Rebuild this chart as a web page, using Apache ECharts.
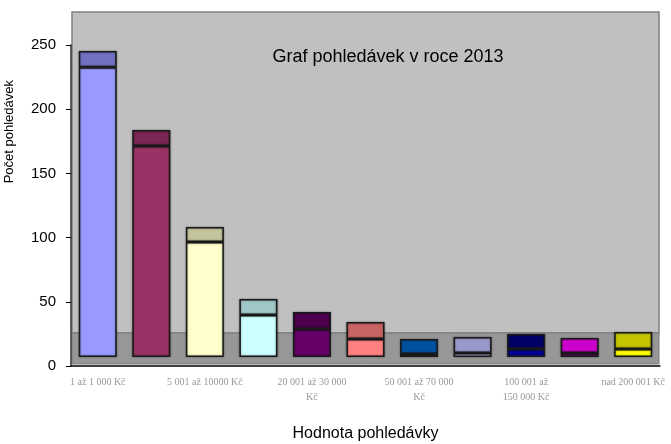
<!DOCTYPE html>
<html>
<head>
<meta charset="utf-8">
<script src="https://cdn.jsdelivr.net/npm/echarts@6/dist/echarts.min.js"></script>
<style>
  html, body { margin: 0; padding: 0; background: #fff; }
  #chart { width: 671px; height: 444px; }
</style>
</head>
<body>
<div id="chart"></div>
<script>
// hodnoty
var categories = ['1 až 1 000 Kč', '1 001 až 5 000 Kč', '5 001 až 10000 Kč', '10 001 až 20 000 Kč',
    '20 001 až 30 000\nKč', '30 001 až 50 000 Kč', '50 001 až 70 000\nKč', '70 001 až 100 000 Kč',
    '100 001 až\n150 000 Kč', '150 001 až 200 000 Kč', 'nad 200 001 Kč'];
var frontValues = [225.6, 164.3, 89.6, 32.7, 21.8, 14, 2.3, 3.1, 6.2, 3.1, 6.2];
var topValues = [12.7, 12.5, 11.6, 12.5, 13.2, 13.3, 11.7, 12.5, 11.7, 11.7, 13.3];
var frontColors = ['#9999ff', '#993366', '#ffffcc', '#ccffff', '#660066', '#ff8080',
    '#002a55', '#ccccff', '#000099', '#800080', '#ffff00'];
var topColors = ['#7171c4', '#7a2553', '#c4c49c', '#a0c8c8', '#4d004d', '#c86464',
    '#0050a0', '#9999cc', '#000066', '#cc00cc', '#c4c400'];
var yTicks = [0, 50, 100, 150, 200, 250];

var myChart = echarts.init(document.getElementById('chart'));

var barStyle = function (colors) {
    return {
        color: function (p) { return colors[p.dataIndex]; },
        borderColor: '#1a1a1a',
        borderWidth: 1.5,
        shadowBlur: 2,
        shadowColor: 'rgba(0,0,0,0.45)'
    };
};

var option = {
    animation: false,
    title: {
        text: 'Graf pohledávek v roce 2013',
        left: 383,
        top: 43,
        textAlign: 'center',
        textStyle: { fontFamily: 'Liberation Sans', fontSize: 18, fontWeight: 'normal', color: '#000' }
    },
    graphic: [
        { type: 'rect', z: -10, shape: { x: 72, y: 12, width: 587, height: 321 },
          style: { fill: '#c0c0c0', stroke: '#808080', lineWidth: 1.5 } },
        { type: 'rect', z: -10, shape: { x: 72, y: 333, width: 587, height: 31 },
          style: { fill: '#979797', stroke: '#7a7a7a', lineWidth: 1 } },
        { type: 'text', left: 3, top: 80, rotation: Math.PI / 2,
          style: { text: 'Počet pohledávek', font: '13px "Liberation Sans"', fill: '#000' } }
    ],
    grid: [
        { left: 71, right: 11, top: 45, bottom: 78, outerBoundsMode: 'none' },
        { left: 71, right: 11, top: 36, bottom: 87, outerBoundsMode: 'none' }
    ],
    xAxis: [
        {
            gridIndex: 0,
            type: 'category',
            data: categories,
            name: 'Hodnota pohledávky',
            nameLocation: 'middle',
            nameGap: 60,
            nameTextStyle: { fontFamily: 'Liberation Sans', fontSize: 16, color: '#000' },
            axisLine: { lineStyle: { color: '#000', width: 1.5 } },
            axisTick: { length: 4, lineStyle: { color: '#000' } },
            axisLabel: {
                interval: 1,
                margin: 9,
                fontFamily: 'Liberation Serif',
                fontSize: 10,
                lineHeight: 15,
                color: '#999'
            }
        },
        { gridIndex: 1, type: 'category', data: categories, show: false }
    ],
    yAxis: [
        {
            gridIndex: 0,
            type: 'value',
            min: 0,
            max: 250,
            interval: 50,
            axisLine: { show: true, lineStyle: { color: '#333', width: 1.5 } },
            axisTick: { show: true, length: 5, lineStyle: { color: '#000' } },
            axisLabel: {
                margin: 15,
                fontFamily: 'Liberation Sans',
                fontSize: 15,
                color: '#000',
                formatter: function (v) { return yTicks.indexOf(v) >= 0 ? v : ''; }
            },
            splitLine: { show: false }
        },
        { gridIndex: 1, type: 'value', min: 0, max: 250, show: false, splitLine: { show: false } }
    ],
    series: [
        {
            name: 'přední',
            type: 'bar',
            xAxisIndex: 1,
            yAxisIndex: 1,
            stack: 'sloupec',
            barWidth: 38,
            data: frontValues,
            itemStyle: barStyle(frontColors)
        },
        {
            name: 'horní',
            type: 'bar',
            xAxisIndex: 1,
            yAxisIndex: 1,
            stack: 'sloupec',
            barWidth: 38,
            data: topValues,
            itemStyle: barStyle(topColors)
        }
    ]
};

myChart.setOption(option);
</script>
</body>
</html>
